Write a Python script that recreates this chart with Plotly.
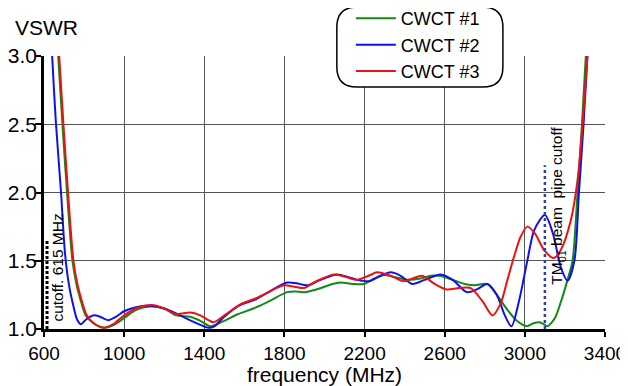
import plotly.graph_objects as go

# ---- data ----
f1 = [670, 692, 715, 742, 763, 783, 808, 850, 900, 950, 1000, 1060, 1130, 1200, 1260, 1330, 1380, 1430,
      1500, 1570, 1645, 1720, 1813, 1855, 1897, 1960, 2040, 2080, 2140, 2197, 2250, 2297, 2350, 2420, 2480,
      2530, 2575, 2640, 2700, 2750, 2813, 2860, 2913, 2960, 3010, 3040, 3072, 3100, 3113, 3150, 3180, 3213,
      3238, 3263, 3285, 3305]
v1 = [3.02, 2.5, 2.0, 1.5, 1.32, 1.21, 1.10, 1.04, 1.01, 1.03, 1.08, 1.14, 1.165, 1.15, 1.10, 1.09, 1.06, 1.02,
      1.06, 1.11, 1.15, 1.20, 1.27, 1.275, 1.27, 1.29, 1.33, 1.34, 1.33, 1.33, 1.37, 1.395, 1.38, 1.36, 1.37,
      1.39, 1.39, 1.36, 1.33, 1.32, 1.33, 1.25, 1.14, 1.06, 1.02, 1.04, 1.05, 1.03, 1.02, 1.08, 1.20, 1.36,
      1.50, 2.0, 2.5, 3.02]

f2 = [640, 660, 685, 705, 725, 745, 765, 785, 810, 850, 880, 920, 960, 1000, 1060, 1130, 1200, 1280, 1350,
      1420, 1450, 1500, 1580, 1645, 1720, 1813, 1860, 1913, 1980, 2063, 2120, 2163, 2220, 2280, 2330, 2380,
      2438, 2500, 2580, 2640, 2710, 2760, 2813, 2860, 2900, 2933, 2970, 3013, 3047, 3100, 3140, 3180, 3213,
      3247, 3270, 3293, 3313]
v2 = [3.02, 2.5, 2.0, 1.55, 1.32, 1.18, 1.07, 1.035, 1.07, 1.10, 1.09, 1.065, 1.09, 1.13, 1.16, 1.17, 1.15,
      1.10, 1.05, 1.01, 1.02, 1.09, 1.176, 1.21, 1.27, 1.34, 1.335, 1.32, 1.36, 1.40, 1.38, 1.36, 1.35, 1.39,
      1.415, 1.39, 1.33, 1.36, 1.40, 1.36, 1.27, 1.29, 1.33, 1.25, 1.10, 1.02, 1.20, 1.505, 1.725, 1.835,
      1.70, 1.45, 1.354, 1.50, 2.0, 2.5, 3.02]

f3 = [675, 697, 720, 747, 768, 788, 813, 850, 897, 950, 1000, 1060, 1140, 1200, 1260, 1330, 1380, 1445,
      1500, 1580, 1650, 1720, 1797, 1850, 1897, 1960, 2047, 2110, 2163, 2220, 2263, 2330, 2397, 2440, 2488,
      2550, 2610, 2670, 2730, 2790, 2838, 2880, 2913, 2950, 2980, 3013, 3050, 3100, 3145, 3180, 3230, 3263,
      3288, 3313]
v3 = [3.02, 2.5, 2.0, 1.5, 1.32, 1.21, 1.10, 1.04, 1.01, 1.04, 1.10, 1.15, 1.175, 1.15, 1.11, 1.12, 1.10, 1.05,
      1.10, 1.18, 1.22, 1.27, 1.32, 1.31, 1.30, 1.35, 1.40, 1.38, 1.36, 1.39, 1.415, 1.39, 1.35, 1.37, 1.39,
      1.33, 1.29, 1.30, 1.30, 1.20, 1.10, 1.19, 1.36, 1.55, 1.68, 1.75, 1.70, 1.57, 1.52, 1.58, 1.80, 2.09,
      2.5, 3.02]

names = ["CWCT #1", "CWCT #2", "CWCT #3"]
colors = ["#138a13", "#1010ee", "#ee1111"]

x_ticks = [600, 1000, 1400, 1800, 2200, 2600, 3000, 3400]
y_ticks = [1.0, 1.5, 2.0, 2.5, 3.0]

cutoff_freq = 615
cutoff_top = 1.65
tm01_freq = 3100
tm01_top = 2.2

FONT = "Liberation Sans, Arial, sans-serif"

fig = go.Figure()
for f, v, n, c in zip([f1, f2, f3], [v1, v2, v3], names, colors):
    fig.add_trace(go.Scatter(x=f, y=v, mode="lines", name=n,
                             line=dict(color=c, width=2, shape="spline", smoothing=0.8)))

# reference lines
fig.add_shape(type="line", xref="x", yref="y", x0=cutoff_freq, x1=cutoff_freq, y0=1.0, y1=cutoff_top,
              line=dict(color="black", width=3, dash="3px,2px"), layer="above")
fig.add_shape(type="line", xref="x", yref="y", x0=tm01_freq, x1=tm01_freq, y0=1.0, y1=tm01_top,
              line=dict(color="#3340a8", width=2.5, dash="3px,3px"), layer="above")

# rounded legend frame
x0, x1, y0, y1 = 0.522, 0.818, 0.886, 1.179
rx, ry = 20 / 561, 20 / 273
path = (f"M{x0+rx},{y0} L{x1-rx},{y0} Q{x1},{y0} {x1},{y0+ry} L{x1},{y1-ry} Q{x1},{y1} {x1-rx},{y1} "
        f"L{x0+rx},{y1} Q{x0},{y1} {x0},{y1-ry} L{x0},{y0+ry} Q{x0},{y0} {x0+rx},{y0} Z")
fig.add_shape(type="path", xref="paper", yref="paper", path=path,
              line=dict(color="black", width=1.5), fillcolor="white", layer="above")

fig.add_annotation(x=-0.055, y=1.106, xref="paper", yref="paper", text="VSWR", showarrow=False,
                   xanchor="left", yanchor="middle", font=dict(size=21, color="black", family=FONT))
fig.add_annotation(x=670, y=1.45, xref="x", yref="y", text="cutoff. 615 MHz", showarrow=False,
                   textangle=-90, xanchor="center", yanchor="middle",
                   font=dict(size=15.5, color="black", family=FONT))
fig.add_annotation(x=3163, y=1.90, xref="x", yref="y",
                   text="TM<sub>01</sub> beam\u00a0 pipe cutoff", showarrow=False,
                   textangle=-90, xanchor="center", yanchor="middle",
                   font=dict(size=15.5, color="black", family=FONT))

fig.update_layout(
    width=620, height=378,
    margin=dict(l=36, r=23, t=48, b=57, autoexpand=False),
    paper_bgcolor="white", plot_bgcolor="white",
    font=dict(family=FONT, color="black"),
    showlegend=True,
    legend=dict(x=0.547, y=1.04, xanchor="left", yanchor="middle", bgcolor="rgba(0,0,0,0)",
                borderwidth=0, font=dict(size=18, family=FONT, color="black"),
                tracegroupgap=0, itemwidth=40),
    xaxis=dict(range=[600, 3400], tickvals=x_ticks, ticktext=[str(t) for t in x_ticks],
               showgrid=True, gridcolor="#555555", gridwidth=1, zeroline=False, automargin=False,
               showline=True, linecolor="black", linewidth=2.5,
               ticks="outside", ticklen=5, tickwidth=2, tickcolor="black",
               tickfont=dict(size=19, family=FONT, color="black"),
               title=dict(text="frequency (MHz)", font=dict(size=21, family=FONT, color="black"),
                          standoff=4)),
    yaxis=dict(range=[1.0, 3.0], tickvals=y_ticks, ticktext=[f"{t:.1f}" for t in y_ticks],
               showgrid=True, gridcolor="#555555", gridwidth=1, zeroline=False, automargin=False,
               showline=True, linecolor="black", linewidth=2.5,
               ticks="outside", ticklen=6, tickwidth=2, tickcolor="black",
               ticklabelstandoff=-6,
               tickfont=dict(size=21, family=FONT, color="black")),
)

fig.write_html("out.html")
